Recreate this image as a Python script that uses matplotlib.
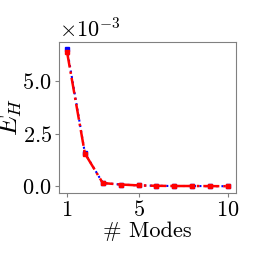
import matplotlib
matplotlib.use("Agg")
import matplotlib.pyplot as plt
import numpy as np

plt.rcParams["font.family"] = "serif"
plt.rcParams["font.serif"] = ["cmr10"]
plt.rcParams["mathtext.fontset"] = "cm"
plt.rcParams["axes.formatter.use_mathtext"] = True
plt.rcParams["font.size"] = 16

modes = [1, 2, 3, 4, 5, 6, 7, 8, 9, 10]
err_blue = [6.52e-3, 1.58e-3, 0.16e-3, 0.09e-3, 0.05e-3, 0.03e-3, 0.02e-3, 0.02e-3, 0.015e-3, 0.01e-3]
err_red = [6.38e-3, 1.56e-3, 0.16e-3, 0.09e-3, 0.05e-3, 0.03e-3, 0.02e-3, 0.02e-3, 0.015e-3, 0.01e-3]

fig = plt.figure(figsize=(2.62, 2.62), dpi=100)
ax = fig.add_axes([0.225, 0.263, 0.676, 0.577])

ax.plot(modes, err_blue, color="blue", linestyle=":", marker="s", markersize=2.5, linewidth=1.5)
ax.plot(modes, err_red, color="red", linestyle="-.", marker="s", markersize=2.5, linewidth=1.8)

ax.set_xticks([1, 5, 10])
ax.set_yticks([0, 2.5e-3, 5e-3])
ax.ticklabel_format(axis="y", style="sci", scilimits=(0, 0))
ax.yaxis.get_offset_text().set_fontsize(16)
ax.set_xlabel("# Modes", labelpad=1)
ax.set_ylabel("$E_H$", fontsize=19)
ax.yaxis.set_label_coords(-0.195, 0.5)

for s in ax.spines.values():
    s.set_color("gray")
ax.tick_params(colors="black", length=3, color="gray", pad=2)

fig.savefig("out.png", dpi=100)
